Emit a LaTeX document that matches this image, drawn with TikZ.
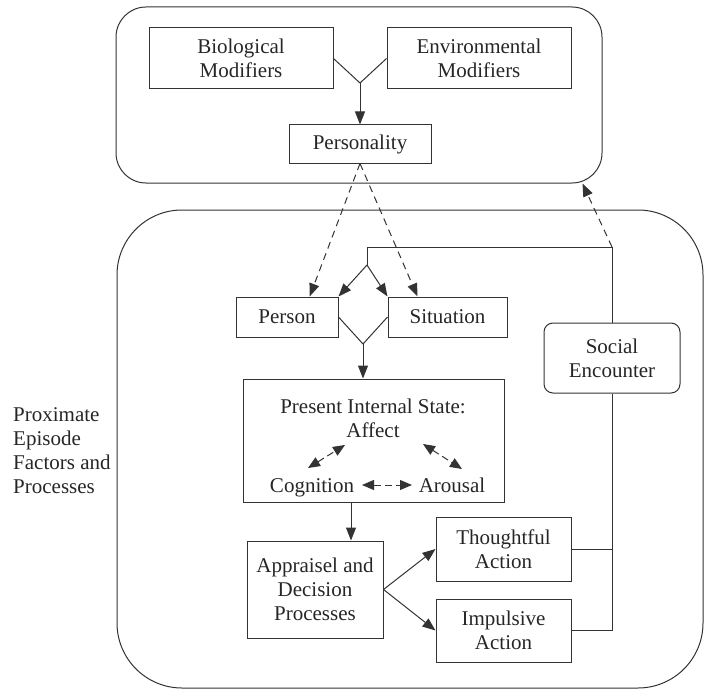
\documentclass[tikz,border=0pt]{standalone}
\usepackage{fontspec}
\setmainfont{Liberation Serif}
\newfontfamily\diagserif{Liberation Serif}
\usetikzlibrary{arrows.meta,calc}
\begin{document}
\begin{tikzpicture}[x=1pt,y=-1pt,
  font=\diagserif\fontsize{21}{24}\selectfont,
  every node/.style={text=black!85},
  ln/.style={draw=black!80, line width=1pt},
  box/.style={ln, rectangle, align=center, inner sep=0pt},
  arr/.style={ln, -{Triangle[length=13pt,width=10pt]}},
  darr/.style={arr, dash pattern=on 7pt off 5pt},
  dd/.style={ln, {Triangle[length=12pt,width=10pt]}-{Triangle[length=12pt,width=10pt]}, dash pattern=on 7pt off 4pt},
  txt/.style={anchor=base, inner sep=0pt},
  ]
\useasboundingbox (0,0) rectangle (704,690);
% containers
\node[box, rounded corners=30pt, minimum width=486pt, minimum height=176pt] (top) at (359,95) {};
\node[box, rounded corners=65pt, minimum width=586pt, minimum height=478pt] (big) at (410,449) {};
% top group
\node[box, minimum width=184pt, minimum height=61pt] (bio) at (241,58.5) {Biological\\Modifiers};
\node[box, minimum width=184pt, minimum height=61pt] (env) at (479,58.5) {Environmental\\Modifiers};
\node[box, minimum width=142pt, minimum height=38pt] (pers) at (360,144) {Personality};
% lower group
\node[box, minimum width=102pt, minimum height=40pt] (person) at (287,317) {Person};
\node[box, minimum width=119pt, minimum height=40pt] (sit) at (447.5,317) {Situation};
\node[box, minimum width=261pt, minimum height=123pt] (pis) at (373.5,440.5) {};
\node[txt] (pist) at (373,413) {Present Internal State:};
\node[txt] (aff) at (373,437) {Affect};
\node[txt] (cog) at (312,492) {Cognition};
\node[txt] (aro) at (452,492) {Arousal};
\node[box, minimum width=136pt, minimum height=97pt] (app) at (315,589.5) {Appraisel and\\Decision\\Processes};
\node[box, minimum width=135pt, minimum height=64pt] (thought) at (503.5,549) {Thoughtful\\Action};
\node[box, minimum width=135pt, minimum height=63pt] (imp) at (503.5,630.5) {Impulsive\\Action};
\node[box, rounded corners=9pt, minimum width=136pt, minimum height=70pt] (social) at (612,358) {Social\\Encounter};
\node[anchor=north west, align=left, inner sep=0pt] (lbl) at (13,407) {Proximate\\Episode\\Factors and\\Processes};
% connectors top
\coordinate (yj) at (360,83);
\draw[ln] (bio.east) -- (yj) -- (env.west);
\draw[arr] (yj) -- (pers.north);
\draw[darr] (pers.south) -- ($(person.north west)!0.72!(person.north east)$);
\draw[darr] (pers.south) -- ($(sit.north west)!0.25!(sit.north east)$);
% loop from social encounter
\coordinate (lp) at (367,247);
\coordinate (lj) at (367,265);
\draw[ln] (social.north) |- (lp) -- (lj);
\draw[arr] (lj) -- (person.north east);
\draw[arr] (lj) -- (sit.north west);
\draw[darr] (social.north |- lp) -- ($(top.south east)+(-20,0)$);
% person/situation to internal state
\coordinate (dj) at (363,344);
\draw[ln] (person.east) -- (dj) -- (sit.west);
\draw[arr] (dj) -- (dj |- pis.north);
% inside internal state
\coordinate (ca1) at (308,468);
\coordinate (ca2) at (345,445);
\coordinate (aa1) at (423,444);
\coordinate (aa2) at (462,469);
\coordinate (cg1) at (362,485);
\coordinate (cg2) at (412,485);
\draw[dd] (ca1) -- (ca2);
\draw[dd] (aa1) -- (aa2);
\draw[dd] (cg1) -- (cg2);
% to appraisal and actions
\coordinate (pa) at (351,0);
\draw[arr] (pa |- pis.south) -- (pa |- app.north);
\draw[arr] (app.east) -- (thought.west);
\draw[arr] (app.east) -- (imp.west);
\draw[ln] (thought.east) -- (thought.east -| social.south);
\draw[ln] (imp.east) -| (social.south);
\end{tikzpicture}
\end{document}
